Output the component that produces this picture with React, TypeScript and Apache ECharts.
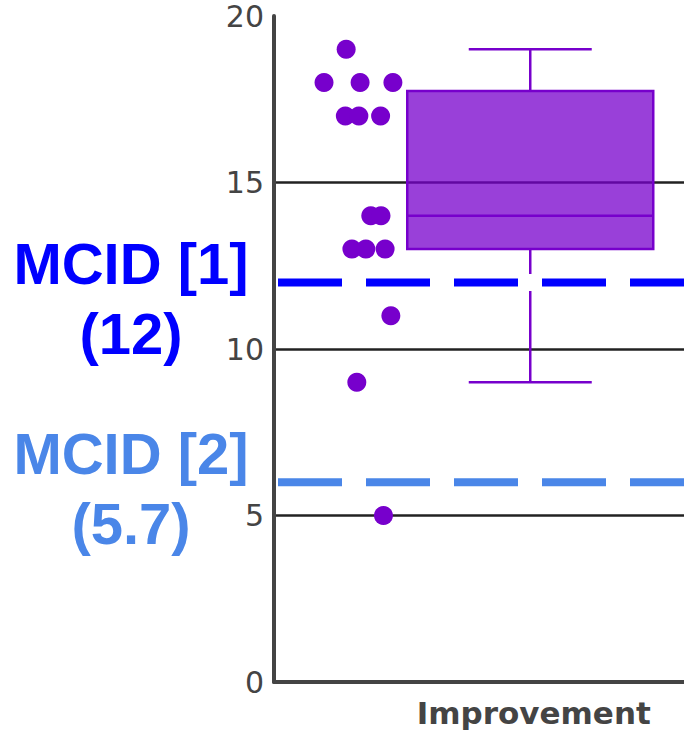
import React, { useEffect, useRef } from 'react';
import * as echarts from 'echarts';

// ---- data ----
const categories = ['', '', 'Improvement', ''];
const yTickMin = 0;
const yTickMax = 20;
const yTickStep = 5;
const pointValues = [19, 18, 18, 18, 17, 17, 17, 14, 14, 13, 13, 13, 11, 9, 5];
const pointJitter = [0.176, 0.122, 0.21, 0.29, 0.174, 0.207, 0.26, 0.236, 0.261, 0.19, 0.224, 0.271, 0.285, 0.202, 0.267];
const boxStats = [9, 13, 14, 17.75, 19]; // min, q1, median, q3, max
const boxCenter = 0.625;
const mcidValues = [12, 6];
const mcidLabels = ['MCID [1]\n(12)', 'MCID [2]\n(5.7)'];
const mcidColors = ['#0000ff', '#4a86e8'];

const BOX_W = 0.6;
const CAP_W = 0.3;
const PURPLE = '#7700cc';

export default function App() {
  const ref = useRef<HTMLDivElement>(null);
  useEffect(() => {
    if (!ref.current) return;
    const chart = echarts.init(ref.current, undefined, { renderer: 'svg' });
    const halo = mcidValues.map((v) => ({
      type: 'line',
      xAxisIndex: 0,
      yAxisIndex: 0,
      data: [[0.01, v], [1, v]],
      showSymbol: false,
      silent: true,
      z: 3,
      lineStyle: { color: '#ffffff', width: 17 },
    }));
    const mcid = mcidValues.map((v, i) => ({
      type: 'line',
      xAxisIndex: 0,
      yAxisIndex: 0,
      data: [[0, v], [1, v]],
      showSymbol: false,
      silent: true,
      z: 4,
      lineStyle: { color: mcidColors[i], width: 8, type: [64, 24], dashOffset: 84 },
    }));
    const labelStyle = {
      fontSize: 58,
      fontWeight: 'bold',
      fontFamily: '"Liberation Sans", Arial, sans-serif',
      align: 'center',
      verticalAlign: 'middle',
      lineHeight: 70,
    };
    chart.setOption({
      animation: false,
      grid: { left: 274, right: 0, top: 16, height: 666 },
      xAxis: [
        { type: 'value', min: 0, max: 1, show: false },
        {
          type: 'category',
          data: categories,
          position: 'bottom',
          axisLine: { show: true, lineStyle: { color: '#444', width: 4 } },
          axisTick: { show: false },
          splitLine: { show: false },
          axisLabel: {
            interval: 0,
            margin: 15,
            fontSize: 31,
            fontWeight: 'bold',
            fontFamily: 'DejaVu Sans',
            color: '#444',
            padding: [0, 0, 0, 7],
          },
        },
      ],
      yAxis: {
        type: 'value',
        min: yTickMin,
        max: yTickMax,
        interval: yTickStep,
        axisLine: { show: true, lineStyle: { color: '#444', width: 4 } },
        axisTick: { show: false },
        axisLabel: {
          fontSize: 30,
          fontFamily: 'DejaVu Sans',
          color: '#444',
          margin: 10,
          padding: [10, 0, 0, 0],
        },
        splitLine: {
          show: true,
          showMinLine: false,
          showMaxLine: false,
          lineStyle: { color: '#222', width: 2.5 },
        },
      },
      series: [
        {
          type: 'custom',
          xAxisIndex: 0,
          yAxisIndex: 0,
          z: 2,
          data: [[boxCenter, ...boxStats]],
          encode: { x: 0, y: [1, 2, 3, 4, 5] },
          renderItem: (params: any, api: any) => {
            const x = api.value(0);
            const lo = api.coord([x, api.value(1)]);
            const q1 = api.coord([x, api.value(2)]);
            const med = api.coord([x, api.value(3)]);
            const q3 = api.coord([x, api.value(4)]);
            const hi = api.coord([x, api.value(5)]);
            const bw = api.size([BOX_W, 0])[0];
            const cw = api.size([CAP_W, 0])[0];
            const st = { stroke: PURPLE, lineWidth: 2.5, fill: 'none' };
            return {
              type: 'group',
              children: [
                { type: 'line', shape: { x1: hi[0], y1: hi[1], x2: q3[0], y2: q3[1] }, style: st },
                { type: 'line', shape: { x1: q1[0], y1: q1[1], x2: lo[0], y2: lo[1] }, style: st },
                { type: 'line', shape: { x1: hi[0] - cw / 2, y1: hi[1], x2: hi[0] + cw / 2, y2: hi[1] }, style: st },
                { type: 'line', shape: { x1: lo[0] - cw / 2, y1: lo[1], x2: lo[0] + cw / 2, y2: lo[1] }, style: st },
                {
                  type: 'rect',
                  shape: { x: q3[0] - bw / 2, y: q3[1], width: bw, height: q1[1] - q3[1] },
                  style: { fill: 'rgba(119,0,204,0.75)', stroke: PURPLE, lineWidth: 2.5 },
                },
                { type: 'line', shape: { x1: med[0] - bw / 2, y1: med[1], x2: med[0] + bw / 2, y2: med[1] }, style: st },
              ],
            };
          },
        },
        ...halo,
        ...mcid,
        {
          type: 'scatter',
          xAxisIndex: 0,
          yAxisIndex: 0,
          z: 5,
          symbolSize: 19,
          itemStyle: { color: PURPLE, opacity: 1 },
          data: pointJitter.map((x, i) => [x, pointValues[i]]),
        },
      ],
      graphic: [
        {
          type: 'text',
          x: 131,
          y: 298,
          style: { ...labelStyle, text: mcidLabels[0], fill: mcidColors[0] },
        },
        {
          type: 'text',
          x: 131,
          y: 488,
          style: { ...labelStyle, text: mcidLabels[1], fill: mcidColors[1] },
        },
      ],
    });
    return () => chart.dispose();
  }, []);
  return (
    <div
      ref={ref}
      style={{ position: 'absolute', left: 0, top: 0, width: 684, height: 731, background: '#fff' }}
    />
  );
}
